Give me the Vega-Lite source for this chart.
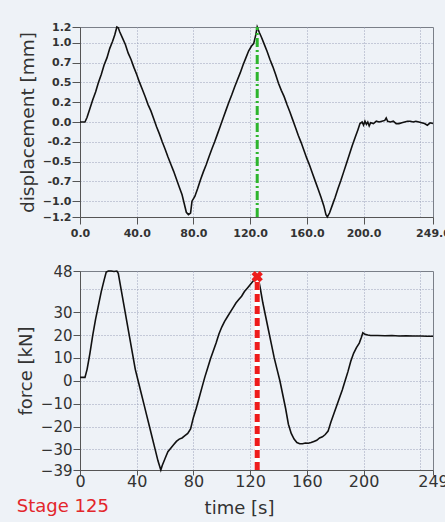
{
  "$schema": "https://vega.github.io/schema/vega-lite/v6.json",
  "background": "#eef2f7",
  "padding": {"top": 20, "left": 16, "right": 10, "bottom": 4},
  "spacing": 24,
  "config": {
    "font": "DejaVu Sans",
    "view": {"stroke": "#7a7f88", "strokeWidth": 1},
    "axis": {
      "domainColor": "#555",
      "tickColor": "#555",
      "tickSize": 5,
      "gridColor": "#9aa0b8",
      "gridDash": [1, 2],
      "labelColor": "#333",
      "titleColor": "#333",
      "titleFontWeight": "normal",
      "labelFlush": false,
      "labelOverlap": false
    }
  },
  "title": {"text": "Stage 125", "orient": "bottom", "anchor": "start", "color": "#e3262b", "fontSize": 18, "fontWeight": "normal", "offset": -20},
  "vconcat": [
    {
      "width": 353,
      "height": 190,
      "encoding": {
        "x": {
          "field": "t", "type": "quantitative",
          "scale": {"domain": [0, 249], "nice": false, "zero": false},
          "axis": {
            "values": [0, 40, 80, 120, 160, 200, 240, 249],
            "labelExpr": "datum.value == 240 ? '' : format(datum.value, '.1f')",
            "tickOpacity": {"condition": {"test": "datum.value == 240", "value": 0}, "value": 1},
            "gridOpacity": {"condition": {"test": "datum.value == 0 || datum.value == 249", "value": 0}, "value": 1},
            "labelOverlap": false,
            "title": null,
            "tickSize": 7,
            "labelFontSize": 11,
            "labelFontWeight": "bold",
            "labelPadding": 3
          }
        },
        "y": {
          "field": "d", "type": "quantitative",
          "scale": {"domain": [-1.2, 1.2], "nice": false, "zero": false},
          "axis": {
            "values": [-1.2, -1, -0.75, -0.5, -0.25, 0, 0.25, 0.5, 0.75, 1, 1.2],
            "labelExpr": "datum.value == 0.75 ? '0.7' : datum.value == -0.75 ? '-0.7' : datum.value == 0.25 ? '0.2' : datum.value == -0.25 ? '-0.2' : format(datum.value, '.1f')",
            "gridOpacity": {"condition": {"test": "abs(datum.value) == 1.2", "value": 0}, "value": 1},
            "labelOverlap": false,
            "title": "displacement [mm]",
            "titleFontSize": 18.5,
            "titlePadding": 5,
            "tickSize": 8,
            "labelFontSize": 11,
            "labelFontWeight": "bold",
            "labelPadding": 1
          }
        }
      },
      "layer": [
        {
          "data": {"values": [
            {"t": 0, "d": 0.0}, {"t": 2, "d": 0.0}, {"t": 3.5, "d": 0.0}, {"t": 5, "d": 0.06}, {"t": 7, "d": 0.17},
            {"t": 9, "d": 0.28}, {"t": 11, "d": 0.38}, {"t": 13, "d": 0.5}, {"t": 15, "d": 0.6}, {"t": 17, "d": 0.72},
            {"t": 19, "d": 0.81}, {"t": 21, "d": 0.93}, {"t": 23, "d": 1.02}, {"t": 24.5, "d": 1.1}, {"t": 26, "d": 1.2},
            {"t": 27, "d": 1.19}, {"t": 28, "d": 1.14}, {"t": 30, "d": 1.06}, {"t": 32, "d": 0.98}, {"t": 34, "d": 0.87},
            {"t": 36, "d": 0.79}, {"t": 38, "d": 0.69}, {"t": 40, "d": 0.6}, {"t": 42, "d": 0.5}, {"t": 44, "d": 0.41},
            {"t": 46, "d": 0.32}, {"t": 48, "d": 0.22}, {"t": 50, "d": 0.14}, {"t": 52, "d": 0.04}, {"t": 54, "d": -0.06},
            {"t": 56, "d": -0.15}, {"t": 58, "d": -0.25}, {"t": 60, "d": -0.34}, {"t": 62, "d": -0.44}, {"t": 64, "d": -0.53},
            {"t": 66, "d": -0.62}, {"t": 68, "d": -0.72}, {"t": 70, "d": -0.82}, {"t": 72, "d": -0.92}, {"t": 73.5, "d": -1.03},
            {"t": 75, "d": -1.14}, {"t": 76.5, "d": -1.17}, {"t": 78, "d": -1.15}, {"t": 79, "d": -1.0}, {"t": 81, "d": -0.94},
            {"t": 83, "d": -0.84}, {"t": 85, "d": -0.73}, {"t": 87, "d": -0.63}, {"t": 89, "d": -0.54}, {"t": 91, "d": -0.44},
            {"t": 93, "d": -0.34}, {"t": 95, "d": -0.25}, {"t": 97, "d": -0.15}, {"t": 99, "d": -0.05}, {"t": 101, "d": 0.05},
            {"t": 103, "d": 0.15}, {"t": 105, "d": 0.25}, {"t": 107, "d": 0.34}, {"t": 109, "d": 0.44}, {"t": 111, "d": 0.53},
            {"t": 113, "d": 0.62}, {"t": 115, "d": 0.72}, {"t": 117, "d": 0.81}, {"t": 119, "d": 0.9}, {"t": 121, "d": 0.96},
            {"t": 122.5, "d": 0.99}, {"t": 124, "d": 1.1}, {"t": 125, "d": 1.2}, {"t": 126.5, "d": 1.13}, {"t": 128, "d": 1.07},
            {"t": 130, "d": 0.98}, {"t": 132, "d": 0.89}, {"t": 134, "d": 0.79}, {"t": 136, "d": 0.7}, {"t": 138, "d": 0.6},
            {"t": 140, "d": 0.49}, {"t": 142, "d": 0.4}, {"t": 144, "d": 0.32}, {"t": 146, "d": 0.22}, {"t": 148, "d": 0.13},
            {"t": 150, "d": 0.03}, {"t": 152, "d": -0.07}, {"t": 154, "d": -0.17}, {"t": 156, "d": -0.26}, {"t": 158, "d": -0.36},
            {"t": 160, "d": -0.46}, {"t": 162, "d": -0.55}, {"t": 164, "d": -0.65}, {"t": 166, "d": -0.75}, {"t": 168, "d": -0.85},
            {"t": 170, "d": -0.95}, {"t": 172, "d": -1.06}, {"t": 173.5, "d": -1.17}, {"t": 174.5, "d": -1.2}, {"t": 176, "d": -1.15},
            {"t": 178, "d": -1.05}, {"t": 180, "d": -0.95}, {"t": 182, "d": -0.84}, {"t": 184, "d": -0.74}, {"t": 186, "d": -0.63},
            {"t": 188, "d": -0.52}, {"t": 190, "d": -0.41}, {"t": 192, "d": -0.3}, {"t": 194, "d": -0.2}, {"t": 196, "d": -0.1},
            {"t": 197.5, "d": -0.02}, {"t": 199, "d": 0.0}, {"t": 200, "d": -0.04}, {"t": 201, "d": 0.01}, {"t": 202, "d": -0.03},
            {"t": 203, "d": 0.0}, {"t": 204, "d": -0.05}, {"t": 205, "d": -0.01}, {"t": 207, "d": -0.02}, {"t": 209, "d": 0.01},
            {"t": 211, "d": 0.0}, {"t": 213, "d": 0.01}, {"t": 215, "d": 0.02}, {"t": 216, "d": 0.05}, {"t": 217, "d": 0.01},
            {"t": 219, "d": 0.0}, {"t": 221, "d": 0.01}, {"t": 223, "d": -0.02}, {"t": 225, "d": -0.02}, {"t": 227, "d": -0.01},
            {"t": 229, "d": 0.0}, {"t": 231, "d": 0.01}, {"t": 233, "d": 0.01}, {"t": 235, "d": 0.0}, {"t": 237, "d": 0.01},
            {"t": 239, "d": 0.0}, {"t": 241, "d": -0.01}, {"t": 243, "d": -0.02}, {"t": 245, "d": -0.04}, {"t": 247, "d": -0.01},
            {"t": 249, "d": -0.02}
          ]},
          "mark": {"type": "line", "color": "#111111", "strokeWidth": 1.6}
        },
        {
          "data": {"values": [{"t": 125, "d": -1.2, "d2": 1.2}]},
          "mark": {"type": "rule", "color": "#2db52d", "strokeWidth": 3, "strokeDash": [9, 3, 2, 3]},
          "encoding": {"y2": {"field": "d2"}}
        }
      ]
    },
    {
      "width": 353,
      "height": 199,
      "encoding": {
        "x": {
          "field": "t", "type": "quantitative",
          "scale": {"domain": [0, 249], "nice": false, "zero": false},
          "axis": {
            "values": [0, 40, 80, 120, 160, 200, 240, 249],
            "labelExpr": "datum.value == 240 ? '' : format(datum.value, 'd')",
            "tickOpacity": {"condition": {"test": "datum.value == 240", "value": 0}, "value": 1},
            "gridOpacity": {"condition": {"test": "datum.value == 0 || datum.value == 249", "value": 0}, "value": 1},
            "labelOverlap": false,
            "title": "time [s]",
            "titleFontSize": 18,
            "titlePadding": 10,
            "titleX": 159,
            "labelFontSize": 16,
            "labelPadding": -2
          }
        },
        "y": {
          "field": "f", "type": "quantitative",
          "scale": {"domain": [-39, 48], "nice": false, "zero": false},
          "axis": {
            "values": [-39, -30, -20, -10, 0, 10, 20, 30, 40, 48],
            "labelExpr": "datum.value == 40 ? '' : format(datum.value, 'd')",
            "tickOpacity": {"condition": {"test": "datum.value == 40", "value": 0}, "value": 1},
            "gridOpacity": {"condition": {"test": "datum.value == -39 || datum.value == 48", "value": 0}, "value": 1},
            "labelOverlap": false,
            "title": "force [kN]",
            "titleFontSize": 18,
            "titlePadding": 5,
            "tickSize": 7,
            "labelFontSize": 15,
            "labelPadding": 1
          }
        }
      },
      "layer": [
        {
          "data": {"values": [
            {"t": 0, "f": 1.5}, {"t": 3.5, "f": 1.5}, {"t": 5, "f": 5}, {"t": 7, "f": 12}, {"t": 9, "f": 20},
            {"t": 11, "f": 27}, {"t": 13, "f": 33}, {"t": 15, "f": 39}, {"t": 17, "f": 44}, {"t": 18.5, "f": 47.5},
            {"t": 20, "f": 48}, {"t": 22, "f": 48}, {"t": 24, "f": 47.8}, {"t": 26, "f": 48}, {"t": 27, "f": 47},
            {"t": 29, "f": 40}, {"t": 31, "f": 33}, {"t": 33, "f": 26}, {"t": 35, "f": 19}, {"t": 37, "f": 12},
            {"t": 39, "f": 5}, {"t": 41, "f": 0}, {"t": 43, "f": -5}, {"t": 45, "f": -10}, {"t": 47, "f": -15},
            {"t": 49, "f": -20}, {"t": 51, "f": -25}, {"t": 53, "f": -30}, {"t": 55, "f": -35}, {"t": 57, "f": -39},
            {"t": 58, "f": -37}, {"t": 60, "f": -34}, {"t": 62, "f": -31}, {"t": 64, "f": -29.5}, {"t": 66, "f": -28},
            {"t": 68, "f": -26.5}, {"t": 70, "f": -25.5}, {"t": 72, "f": -25}, {"t": 74, "f": -24}, {"t": 76, "f": -23},
            {"t": 78, "f": -21}, {"t": 80, "f": -16}, {"t": 82, "f": -12}, {"t": 84, "f": -7.5}, {"t": 86, "f": -3},
            {"t": 88, "f": 1.5}, {"t": 90, "f": 5.5}, {"t": 92, "f": 9.5}, {"t": 94, "f": 13}, {"t": 96, "f": 16.5},
            {"t": 98, "f": 20.5}, {"t": 100, "f": 23.5}, {"t": 102, "f": 26}, {"t": 104, "f": 28}, {"t": 106, "f": 30},
            {"t": 108, "f": 32}, {"t": 110, "f": 34}, {"t": 112, "f": 35.5}, {"t": 114, "f": 37}, {"t": 116, "f": 39},
            {"t": 118, "f": 40.5}, {"t": 120, "f": 42}, {"t": 122, "f": 43.5}, {"t": 124, "f": 45}, {"t": 125.5, "f": 45.5},
            {"t": 127, "f": 41}, {"t": 129, "f": 34}, {"t": 131, "f": 28}, {"t": 133, "f": 22}, {"t": 135, "f": 16},
            {"t": 137, "f": 10}, {"t": 139, "f": 5}, {"t": 141, "f": 0}, {"t": 143, "f": -6}, {"t": 145, "f": -12},
            {"t": 147, "f": -19}, {"t": 149, "f": -23}, {"t": 151, "f": -25.5}, {"t": 153, "f": -27}, {"t": 155, "f": -27.5},
            {"t": 157, "f": -27.5}, {"t": 159, "f": -27.2}, {"t": 161, "f": -27.3}, {"t": 163, "f": -27}, {"t": 165, "f": -26.5},
            {"t": 167, "f": -26}, {"t": 169, "f": -25}, {"t": 171, "f": -24.5}, {"t": 173, "f": -23.5}, {"t": 175, "f": -22},
            {"t": 177, "f": -18}, {"t": 179, "f": -14.5}, {"t": 181, "f": -11}, {"t": 183, "f": -7.5}, {"t": 185, "f": -4},
            {"t": 187, "f": 0}, {"t": 189, "f": 4}, {"t": 191, "f": 8.5}, {"t": 193, "f": 12}, {"t": 195, "f": 14.5},
            {"t": 197, "f": 16.5}, {"t": 198.5, "f": 19}, {"t": 199.5, "f": 21}, {"t": 201, "f": 20.3}, {"t": 203, "f": 20},
            {"t": 205, "f": 19.8}, {"t": 210, "f": 19.8}, {"t": 215, "f": 19.7}, {"t": 220, "f": 19.8}, {"t": 225, "f": 19.6},
            {"t": 230, "f": 19.7}, {"t": 235, "f": 19.6}, {"t": 240, "f": 19.6}, {"t": 245, "f": 19.5}, {"t": 249, "f": 19.5}
          ]},
          "mark": {"type": "line", "color": "#111111", "strokeWidth": 1.6}
        },
        {
          "data": {"values": [{"t": 125, "f": -39, "f2": 44}]},
          "mark": {"type": "rule", "color": "#ffffff", "strokeWidth": 5},
          "encoding": {"y2": {"field": "f2"}}
        },
        {
          "data": {"values": [{"t": 125, "f": -39, "f2": 44}]},
          "mark": {"type": "rule", "color": "#ee1c1c", "strokeWidth": 5, "strokeDash": [8, 4]},
          "encoding": {"y2": {"field": "f2"}}
        },
        {
          "data": {"values": [{"t": 125, "f": 45.5}]},
          "mark": {"type": "point", "shape": "cross", "angle": 45, "filled": true, "color": "#ee1c1c", "size": 130, "opacity": 1}
        }
      ]
    }
  ]
}
